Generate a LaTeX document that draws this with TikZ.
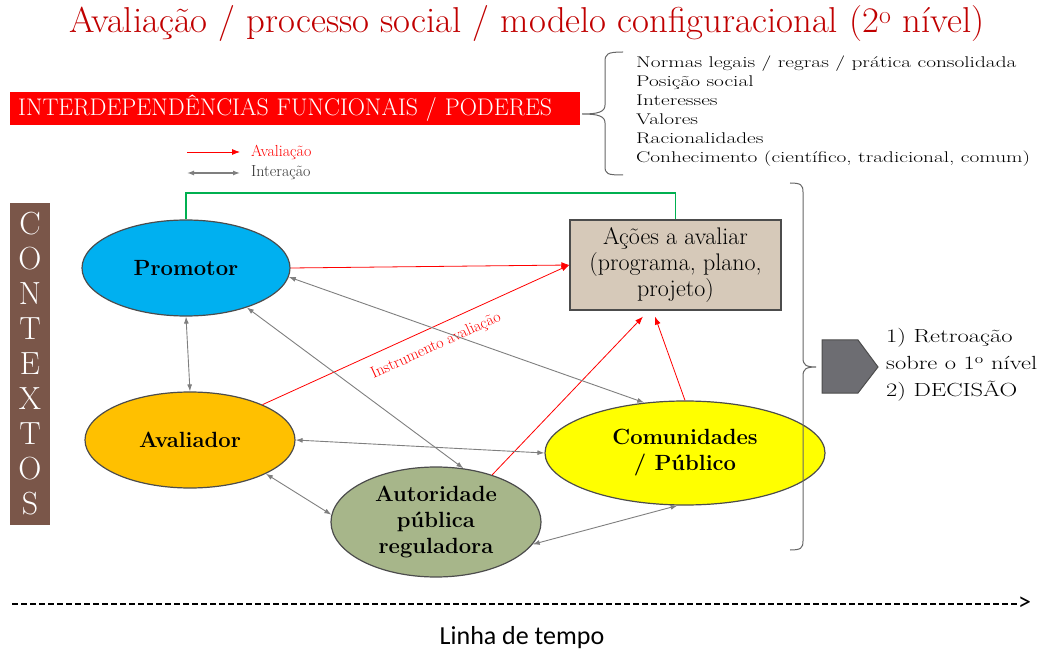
\documentclass[tikz,border=0pt]{standalone}
\usepackage{fontspec}
\usepackage{graphicx}
\newfontfamily\carlito{Carlito}
\usetikzlibrary{arrows.meta,shapes.geometric}
\definecolor{titlered}{HTML}{C00000}
\definecolor{cyanf}{HTML}{00B0F0}
\definecolor{orangef}{HTML}{FFC000}
\definecolor{olivef}{HTML}{A7B68A}
\definecolor{yellowf}{HTML}{FFFF00}
\definecolor{boxf}{HTML}{D6C9B9}
\definecolor{brownf}{HTML}{7A5649}
\definecolor{pentf}{HTML}{6D6D72}
\definecolor{greenl}{HTML}{00B050}
\definecolor{grayl}{HTML}{7F7F7F}
\newcommand\fitto[2]{\resizebox{#1}{\height}{#2}}
\begin{document}
\begin{tikzpicture}[x=1pt,y=-1pt,
  ell/.style={ellipse, draw=black!70, line width=1.2pt, inner sep=0pt, align=center,
    font=\bfseries\fontsize{22}{26}\selectfont},
  interarr/.style={draw=grayl, line width=0.9pt, {Latex[length=7pt,width=5pt]}-{Latex[length=7pt,width=5pt]}},
  evalarr/.style={draw=red, line width=0.8pt, -{Latex[length=8pt,width=6pt]}},
  bracel/.style={draw=black!60, line width=1pt}
]
\useasboundingbox (0,0) rectangle (1047,652);

% title
\node[text=titlered, font=\fontsize{36}{40}\selectfont, inner sep=0] (title) at (527,24)
  {\fitto{915pt}{Avaliação / processo social / modelo configuracional (2\textsuperscript{o} nível)}};

% banner
\node[fill=red, text=white, anchor=west, inner xsep=8pt, inner ysep=0pt, minimum height=33pt,
  text width=554pt, align=left, font=\fontsize{24}{26}\selectfont] (banner) at (10,108.5)
  {\fitto{534pt}{INTERDEPENDÊNCIAS FUNCIONAIS / PODERES}};

% list and brace
\draw[bracel] (623,52) .. controls (607,52) and (605,54) .. (605,62) -- (605,105)
  .. controls (605,112) and (598,114) .. (582,114)
  .. controls (598,114) and (605,116) .. (605,123) -- (605,166)
  .. controls (605,174) and (607,175) .. (623,175);
\node[anchor=west, inner sep=0] (lista) at (636,111)
  {\resizebox{394pt}{\height}{\fontsize{15.5}{19}\selectfont
   \begin{tabular}{@{}l@{}}
   Normas legais / regras / prática consolidada\\
   Posição social\\
   Interesses\\
   Valores\\
   Racionalidades\\
   Conhecimento (científico, tradicional, comum)
   \end{tabular}}};

% legend
\coordinate (la1) at (187,152);
\coordinate (la2) at (240,152);
\coordinate (li1) at (187,173);
\coordinate (li2) at (240,173);
\draw[evalarr] (la1) -- (la2);
\draw[interarr, line width=1.3pt] (li1) -- (li2);
\node[anchor=west, inner sep=0, text=red, font=\fontsize{16}{18}\selectfont] (lega) at (251,152) {Avaliação};
\node[anchor=west, inner sep=0, text=black!80, font=\fontsize{16}{18}\selectfont] (legi) at (251,173) {Interação};

% contextos
\node[fill=brownf, text=white, minimum width=40pt, minimum height=322pt, inner sep=0, align=center,
  font=\fontsize{32}{35}\selectfont] (ctx) at (30,364) {C\\O\\N\\T\\E\\X\\T\\O\\S};

% nodes
\node[ell, fill=cyanf, minimum width=208pt, minimum height=96pt] (prom) at (186,268) {Promotor};
\node[ell, fill=orangef, minimum width=210pt, minimum height=96pt] (aval) at (190,440) {Avaliador};
\node[ell, fill=olivef, minimum width=210pt, minimum height=110pt] (aut) at (436,522) {Autoridade\\pública\\reguladora};
\node[ell, fill=yellowf, minimum width=280pt, minimum height=104pt] (com) at (685,453) {Comunidades\\/ Público};
\node[draw=black!70, line width=1.2pt, fill=boxf, minimum width=211pt, minimum height=90pt, inner sep=0,
  align=center, font=\fontsize{24}{26}\selectfont] (box) at (675.5,265) {Ações a avaliar\\(programa, plano,\\projeto)};

% green connector
\coordinate (g) at (0,193);
\draw[greenl, line width=1.5pt] (prom.north) -- (prom.north |- g) -- (box.north |- g) -- (box.north);

% evaluation arrows
\draw[evalarr] (prom.east) -- (box.west);
\draw[evalarr] (aval.26) -- (box.west);
\node[rotate=24.4, text=red, inner sep=0, font=\fontsize{16}{18}\selectfont] (instr) at (436,346) {Instrumento avaliação};
\draw[evalarr] (aut.40) -- ([xshift=-32.5pt,yshift=-6pt]box.south);
\draw[evalarr] (com.north) -- ([xshift=-20.5pt,yshift=-6pt]box.south);

% interaction arrows
\draw[interarr] (prom.south) -- (aval.north);
\draw[interarr] (prom.-5) -- (com.129);
\draw[interarr] (prom.-33) -- (aut.63);
\draw[interarr] (aval.east) -- (com.west);
\draw[interarr] (aval.-24) -- (aut.176);
\draw[interarr] (aut.-13) -- (com.-98);

% right brace and outcome
\draw[bracel] (790,183) .. controls (801,183) and (803,185) .. (803,192) -- (803,358)
  .. controls (803,365) and (806,367) .. (816,367)
  .. controls (806,367) and (803,369) .. (803,376) -- (803,541)
  .. controls (803,548) and (801,550) .. (790,550);
\filldraw[fill=pentf, draw=black!70, line width=1pt] (822,340) -- (858,340) -- (878,367) -- (858,393) -- (822,393) -- cycle;
\node[anchor=west, inner sep=0] (result) at (886,364)
  {\resizebox{151pt}{\height}{\fontsize{19}{27}\selectfont
   \begin{tabular}{@{}l@{}}
   1) Retroação\\
   sobre o 1\textsuperscript{o} nível\\
   2) DECISÃO
   \end{tabular}}};

% timeline
\coordinate (t0) at (12,604);
\node[anchor=west, inner sep=0, font=\carlito\fontsize{26}{28}\selectfont] (tend) at (1018,604) {>};
\draw[dash pattern=on 6pt off 3pt, line width=2pt] (t0) -- (tend.west);
\node[font=\carlito\fontsize{26}{28}\selectfont] (linha) at (522,638) {Linha de tempo};
\end{tikzpicture}
\end{document}
